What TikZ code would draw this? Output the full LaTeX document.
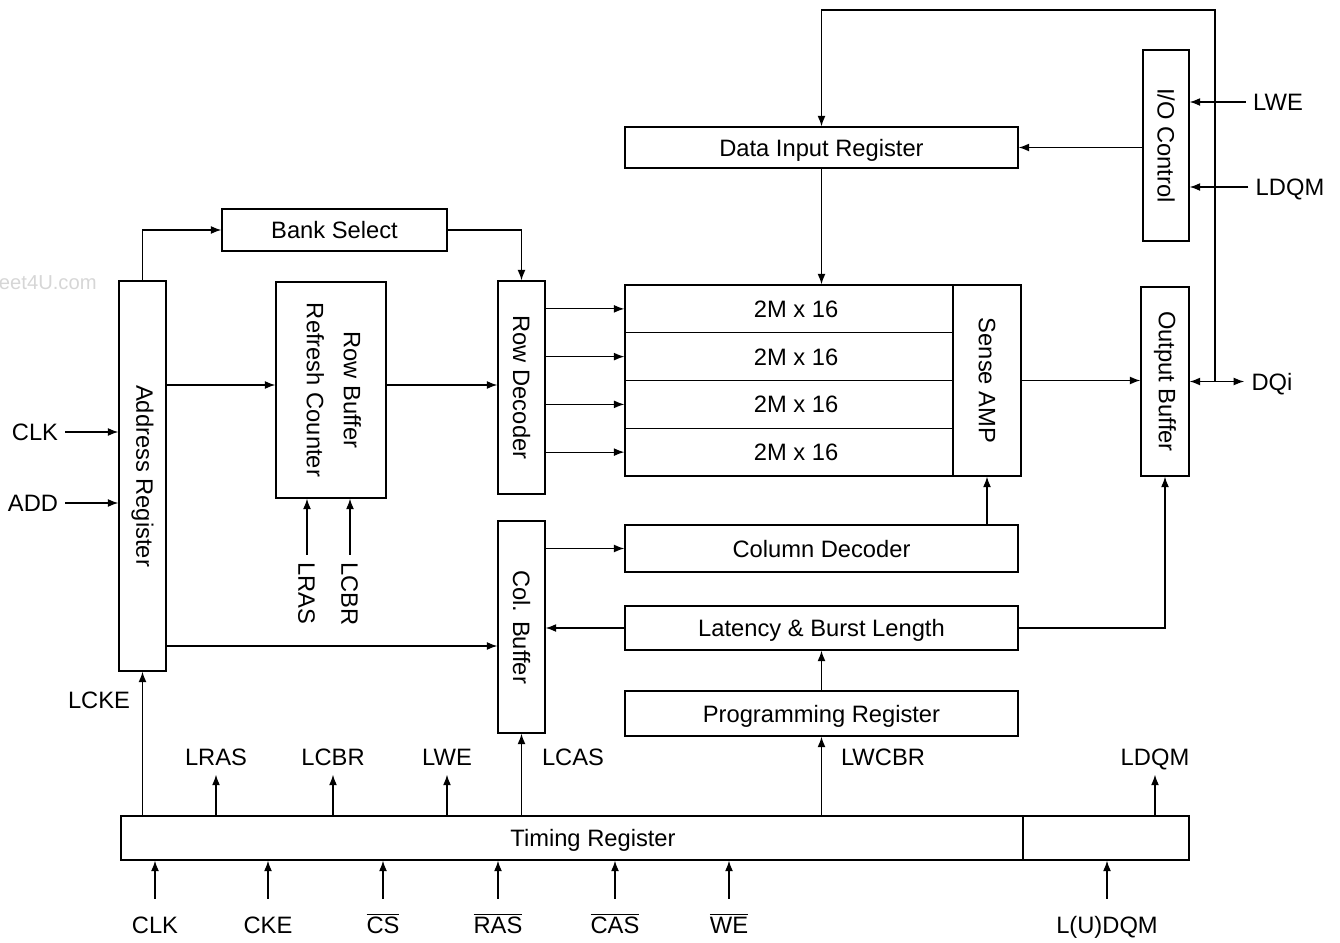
\documentclass[tikz,border=0pt]{standalone}
\usepackage{fontspec}
\setmainfont{Liberation Sans}
\usepackage{graphicx}
\usetikzlibrary{arrows.meta}

\newcommand{\vtext}[1]{\rotatebox{-90}{#1}}

\begin{document}
\begin{tikzpicture}[x=0.02cm, y=-0.02cm, every node/.style={font=\fontsize{13.5}{16}\selectfont},
	blk/.style={draw, line width=0.7pt, inner sep=0pt, align=center},
	hb/.style={text height=9.7pt, text depth=0pt},
	sz/.style 2 args={minimum width=#1*0.02cm, minimum height=#2*0.02cm},
	arr/.style={-{Latex[length=6pt,width=4.5pt]}, line width=0.7pt},
	arrb/.style={{Latex[length=6pt,width=4.5pt]}-{Latex[length=6pt,width=4.5pt]}, line width=0.7pt},
	sig/.style={inner sep=0pt, text height=9.7pt, text depth=0pt}]
	\useasboundingbox (0,0) rectangle (1340,943);
	\node[anchor=east, inner sep=0pt, text=black!16, font=\fontsize{11.5}{12}\selectfont] (wm) at (97,283) {eet4U.com};
	% blocks
	\node[blk, hb, sz={393}{41}] (din) at (821.5,147.5) {Data Input Register};
	\node[blk, sz={46}{191}] (io) at (1166,145.5) {\vtext{I/O Control}};
	\node[blk, hb, sz={225}{42}] (bank) at (334.5,230) {Bank Select};
	\node[blk, sz={47}{390}] (addr) at (142.5,476) {\vtext{Address Register}};
	\node[blk, sz={110}{216}] (rowbuf) at (331,390) {\vtext{\begin{tabular}{@{}c@{}}Row Buffer\\[5pt]Refresh Counter\end{tabular}}};
	\node[blk, sz={47}{213}] (rowdec) at (521.5,387.5) {\vtext{Row Decoder}};
	\foreach \i in {1,...,4} {\node[blk, hb, sz={328}{47.75}] (m\i) at (789,{285+47.75*(\i-0.5)}) {\hspace{8pt}2M x 16};}
	\node[blk, sz={68}{191}] (sense) at (987,380.5) {\vtext{Sense AMP}};
	\node[blk, sz={48}{189}] (outbuf) at (1165,381.5) {\vtext{Output Buffer}};
	\node[blk, sz={47}{212}] (colbuf) at (521.5,627) {\vtext{Col. Buffer}};
	\node[blk, hb, sz={393}{47}] (coldec) at (821.5,548.5) {Column Decoder};
	\node[blk, hb, sz={393}{44}] (lat) at (821.5,628) {Latency \& Burst Length};
	\node[blk, hb, sz={393}{45}] (prog) at (821.5,713.5) {Programming Register};
	\node[blk, sz={902}{44}] (timing) at (572,838) {};
	\node[hb] (timtxt) at (593,838) {Timing Register};
	\node[blk, sz={166}{44}] (dqmreg) at (1106,838) {};
	% connections between blocks
	\coordinate (rowy) at (0,385); \coordinate (coly) at (0,646); \coordinate (tap) at (1215,10);
	\draw[arr] (addr.north) |- (bank.west);
	\draw[arr] (bank.east) -| (rowdec.north);
	\draw[arr] (addr.east |- rowy) -- (rowbuf.west |- rowy);
	\draw[arr] (rowbuf.east |- rowy) -- (rowdec.west |- rowy);
	\foreach \i in {1,...,4} {\draw[arr] (rowdec.east |- m\i) -- (m\i.west);}
	\draw[arr] (din.south) -- (din.south |- m1.north);
	\draw[arr] (io.west |- din) -- (din.east);
	\draw[arr] (sense.east) -- (sense.east -| outbuf.west);
	\draw[arr] (tap |- outbuf) -- (tap) -| (din.north);
	\draw[arr] (colbuf.east |- coldec) -- (coldec.west);
	\draw[arr] (coldec.north -| sense.south) -- (sense.south);
	\draw[arr] (lat.west) -- (lat.west -| colbuf.east);
	\draw[arr] (lat.east) -| (outbuf.south);
	\draw[arr] (prog.north) -- (lat.south);
	\draw[arr] (addr.east |- coly) -- (colbuf.west |- coly);
	\draw[arr] (timing.north -| addr.south) -- (addr.south);
	\draw[arr] (timing.north -| colbuf.south) -- (colbuf.south);
	\draw[arr] (timing.north -| prog.south) -- (prog.south);
	% signals
	\node[sig] (lcke) at (99,700) {LCKE};
	\node[sig] (lcas) at (573,757) {LCAS};
	\node[sig] (lwcbr) at (883,757) {LWCBR};
	\foreach \x/\n/\t in {216/lras/LRAS, 333/lcbr/LCBR, 447/lwe/LWE} {
		\node[sig] (\n) at (\x,757) {\t};
		\draw[arr] (timing.north -| \n) -- ([yshift=-5pt]\n.south);
	}
	\node[sig] (ldqm) at (1155,757) {LDQM};
	\draw[arr] (dqmreg.north -| ldqm) -- ([yshift=-5pt]ldqm.south);
	\foreach \x/\n/\t in {155/iclk/CLK, 268/icke/CKE, 383/ics/$\overline{\mbox{CS}}$, 498/iras/$\overline{\mbox{RAS}}$, 615/icas/$\overline{\mbox{CAS}}$, 729/iwe/$\overline{\mbox{WE}}$, 1107/idqm/L(U)DQM} {
		\node[sig] (\n) at (\x,925) {\t};
		\draw[arr] ([yshift=10pt]\n.north) -- (timing.south -| \n);
	}
	\node[sig, rotate=-90, anchor=west] (lrasv) at (307,562) {LRAS};
	\node[sig, rotate=-90, anchor=west] (lcbrv) at (350,562) {LCBR};
	\draw[arr] ([yshift=4pt]lrasv.west) -- (lrasv.west |- rowbuf.south);
	\draw[arr] ([yshift=4pt]lcbrv.west) -- (lcbrv.west |- rowbuf.south);
	\node[sig] (aclk) at (35,432) {CLK};
	\node[sig] (aadd) at (33,503) {ADD};
	\draw[arr] ([xshift=4pt]aclk.east) -- (aclk.east -| addr.west);
	\draw[arr] ([xshift=4pt]aadd.east) -- (aadd.east -| addr.west);
	\node[sig] (owe) at (1278,102) {LWE};
	\node[sig] (odqm) at (1290,187) {LDQM};
	\node[sig] (dqi) at (1272,381.5) {DQi};
	\draw[arr] ([xshift=-4pt]owe.west) -- (owe.west -| io.east);
	\draw[arr] ([xshift=-4pt]odqm.west) -- (odqm.west -| io.east);
	\draw[arrb] (outbuf.east) -- ([xshift=-4pt]dqi.west);
\end{tikzpicture}
\end{document}
